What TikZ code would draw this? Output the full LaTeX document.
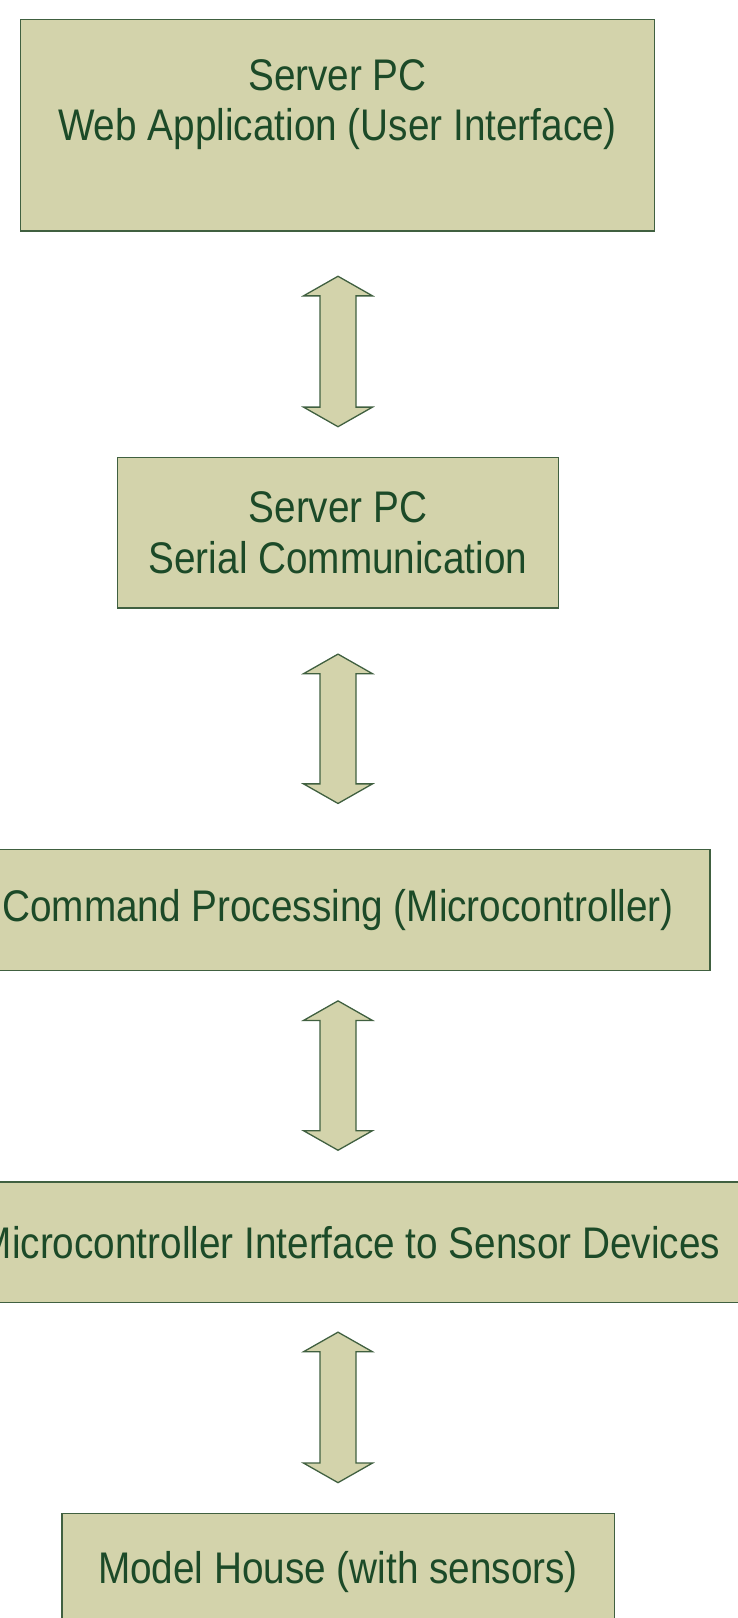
\documentclass[tikz,border=0pt]{standalone}
\usepackage{fontspec}
\setmainfont{Liberation Sans}[FakeStretch=0.874]
\usetikzlibrary{calc}
\definecolor{boxfill}{RGB}{211,211,171}
\definecolor{boxline}{RGB}{64,96,64}
\definecolor{txtgreen}{RGB}{28,74,40}
\tikzset{
  blockbox/.style={draw=boxline, line width=1.3pt, fill=boxfill, inner sep=0pt,
    align=center, text=txtgreen, font=\fontsize{44.3}{50.6}\selectfont},
  blockarrow/.style={draw=boxline, line width=1.3pt, fill=boxfill, line join=miter}
}
\newcommand\dblarrow[2]{%
  \draw[blockarrow] (#1) -- ($(#1)+(34.5,19.6)$) -- ($(#1)+(18,19.6)$)
    -- ($(#2)+(18,-19.6)$) -- ($(#2)+(34.5,-19.6)$) -- (#2)
    -- ($(#2)+(-34.5,-19.6)$) -- ($(#2)+(-18,-19.6)$)
    -- ($(#1)+(-18,19.6)$) -- ($(#1)+(-34.5,19.6)$) -- cycle;}
\begin{document}
\begin{tikzpicture}[x=1pt,y=-1pt]
\useasboundingbox (0,0) rectangle (738,1618);
\node[blockbox, minimum width=633.8pt, minimum height=211.4pt] (b1) at (337.5,125.3)
  {Server PC\\Web Application (User Interface)\\\mbox{}};
\node[blockbox, minimum width=440.7pt, minimum height=150.7pt] (b2) at (338,532.7)
  {Server PC\\Serial Communication};
\node[blockbox, minimum width=744pt, minimum height=120.8pt] (b3) at (338,909.9)
  {Command Processing (Microcontroller)};
\node[blockbox, minimum width=840pt, minimum height=120.8pt] (b4) at (350,1242.3)
  {Microcontroller Interface to Sensor Devices};
\node[blockbox, minimum width=552.3pt, minimum height=118pt] (b5) at (338,1572.2)
  {Model House (with sensors)};
\coordinate (a1t) at ($(b1.south)+(0.5,44.6)$);
\coordinate (a1b) at ($(b2.north)+(0,-30)$);
\coordinate (a2t) at ($(b2.south)+(0,45.4)$);
\coordinate (a2b) at ($(b3.north)+(0,-45.4)$);
\coordinate (a3t) at ($(b3.south)+(0,29.9)$);
\coordinate (a3b) at ($(b4.north)+(-12,-31)$);
\coordinate (a4t) at ($(b4.south)+(-12,28.8)$);
\coordinate (a4b) at ($(b5.north)+(0,-29.9)$);
\dblarrow{a1t}{a1b}
\dblarrow{a2t}{a2b}
\dblarrow{a3t}{a3b}
\dblarrow{a4t}{a4b}
\end{tikzpicture}
\end{document}
